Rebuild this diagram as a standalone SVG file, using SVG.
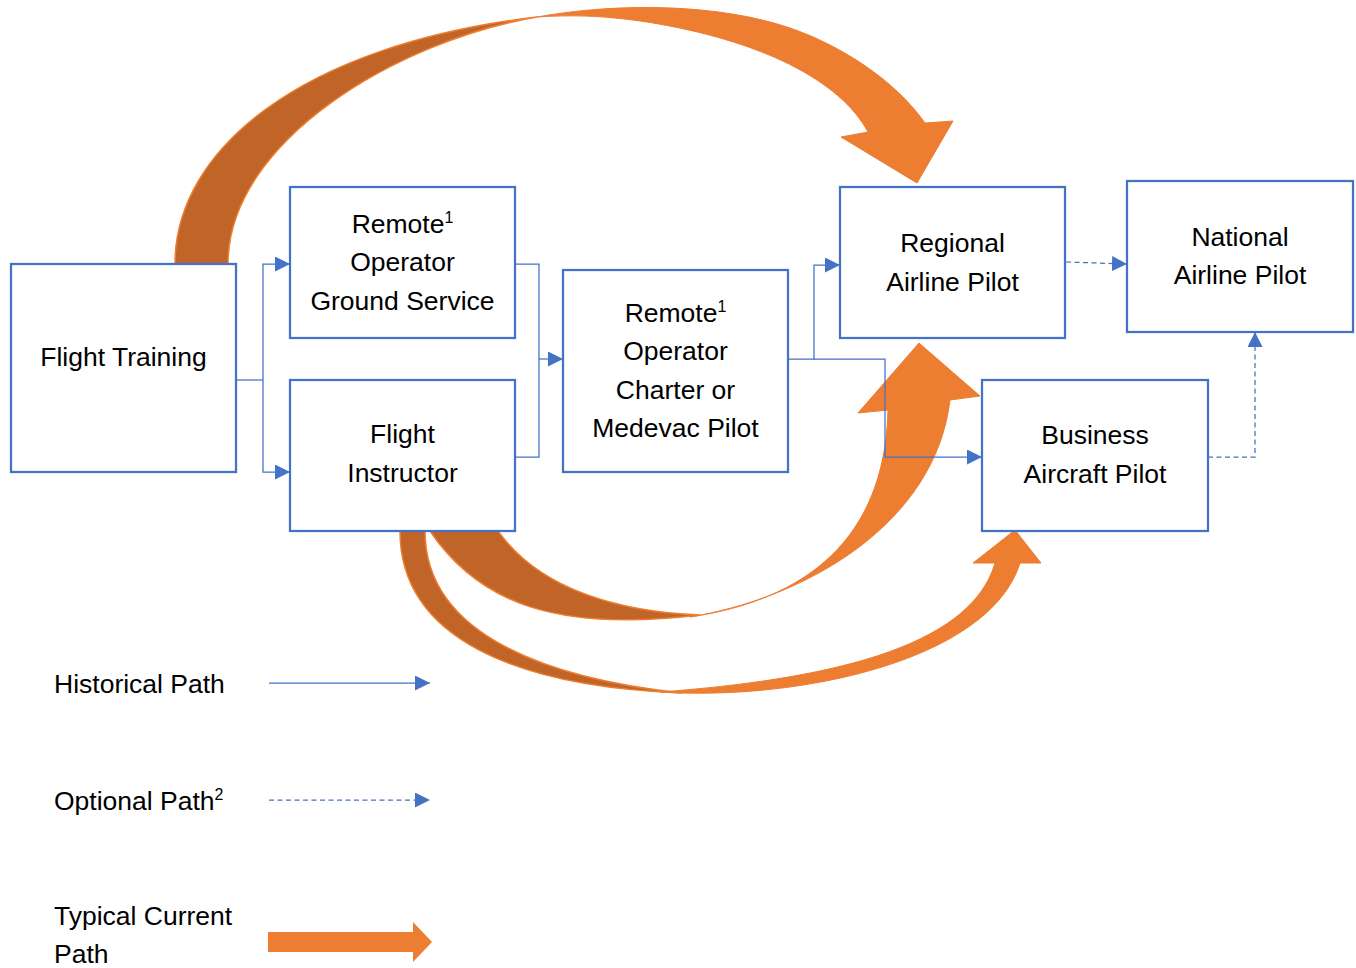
<svg xmlns="http://www.w3.org/2000/svg" width="1356" height="968" viewBox="0 0 1356 968">
<style>
.box{fill:#fff;stroke:#4472C4;stroke-width:2.25}
.t{font-family:"Liberation Sans",Arial,sans-serif;font-size:26.5px;fill:#000}
.c{text-anchor:middle}
.sup{font-size:16px}
.conn{fill:none;stroke:#4472C4;stroke-width:1.25}
.dash{stroke-dasharray:5 3.5}
.org{fill:#ED7D31;stroke:#ED7D31;stroke-width:1}
.drk{fill:#C06428;stroke:#ED7D31;stroke-width:1.5}
</style>
<defs>
<marker id="ah" viewBox="0 0 10 10" refX="10" refY="5" markerUnits="userSpaceOnUse" markerWidth="15" markerHeight="15" orient="auto">
<path d="M0,0 L10,5 L0,10 Z" fill="#4472C4"/>
</marker>
</defs>
<rect width="1356" height="968" fill="#fff"/>

<g id="current-paths">
<path class="drk" d="M175,264 C175,150 300,45 537,17 C400,40 228,140 228,264 Z"/>
<path class="org" d="M537,17 C620,2 720,4 790,28 C840,45 895,80 925,123 L953,121 L917,183 L841,137 L868,132 C840,80 760,40 647,22 C600,15 570,15 537,17 Z"/>
<path class="drk" d="M430,531 C480,605 560,632 700,615 C620,612 540,590 498,531 Z"/>
<path class="org" d="M690,617 C805,598 935,525 950,400 L980,396 L919,343 L858,413 L888,410 C885,540 805,600 690,617 Z"/>
<path class="drk" d="M400,531 C400,640 520,687 682,693 C560,680 425,640 425,531 Z"/>
<path class="org" d="M660,692 C800,701 990,660 1020,563 L1041,563 L1015,530 L973,563 L995,563 C970,650 820,680 660,692 Z"/>
</g>

<g id="node-flight-training">
<rect class="box" x="11" y="264" width="225" height="208"/>
<text class="t c" x="123.5" y="366">Flight Training</text>
</g>
<g id="node-ground-service">
<rect class="box" x="290" y="187" width="225" height="151"/>
<text class="t c" x="402.5" y="233">Remote<tspan class="sup" dy="-10">1</tspan></text>
<text class="t c" x="402.5" y="271">Operator</text>
<text class="t c" x="402.5" y="310">Ground Service</text>
</g>
<g id="node-flight-instructor">
<rect class="box" x="290" y="380" width="225" height="151"/>
<text class="t c" x="402.5" y="443">Flight</text>
<text class="t c" x="402.5" y="482">Instructor</text>
</g>
<g id="node-charter">
<rect class="box" x="563" y="270" width="225" height="202"/>
<text class="t c" x="675.5" y="322">Remote<tspan class="sup" dy="-10">1</tspan></text>
<text class="t c" x="675.5" y="360">Operator</text>
<text class="t c" x="675.5" y="399">Charter or</text>
<text class="t c" x="675.5" y="437">Medevac Pilot</text>
</g>
<g id="node-regional">
<rect class="box" x="840" y="187" width="225" height="151"/>
<text class="t c" x="952.5" y="252">Regional</text>
<text class="t c" x="952.5" y="291">Airline Pilot</text>
</g>
<g id="node-national">
<rect class="box" x="1127" y="181" width="226" height="151"/>
<text class="t c" x="1240" y="246">National</text>
<text class="t c" x="1240" y="284">Airline Pilot</text>
</g>
<g id="node-business">
<rect class="box" x="982" y="380" width="226" height="151"/>
<text class="t c" x="1095" y="444">Business</text>
<text class="t c" x="1095" y="483">Aircraft Pilot</text>
</g>

<g id="connectors">
<polyline class="conn" points="236,380 263,380"/>
<polyline class="conn" points="263,380 263,264 290,264" marker-end="url(#ah)"/>
<polyline class="conn" points="263,380 263,472 290,472" marker-end="url(#ah)"/>
<polyline class="conn" points="515,264 539,264 539,457 515,457"/>
<polyline class="conn" points="539,359 563,359" marker-end="url(#ah)"/>
<polyline class="conn" points="788,359 814,359 814,265 840,265" marker-end="url(#ah)"/>
<polyline class="conn" points="814,359 885,359 885,457 982,457" marker-end="url(#ah)"/>
<polyline class="conn dash" points="1066,262 1127,264" marker-end="url(#ah)"/>
<polyline class="conn dash" points="1208,457 1255,457 1255,332" marker-end="url(#ah)"/>
</g>

<g id="legend">
<text class="t" x="54" y="693">Historical Path</text>
<line class="conn" x1="269" y1="683" x2="430" y2="683" marker-end="url(#ah)"/>
<text class="t" x="54" y="810">Optional Path<tspan class="sup" dy="-10">2</tspan></text>
<line class="conn dash" x1="269" y1="800" x2="430" y2="800" marker-end="url(#ah)"/>
<text class="t" x="54" y="925">Typical Current</text>
<text class="t" x="54" y="963">Path</text>
<polygon fill="#ED7D31" points="268,932 413,932 413,922 432,942 413,962 413,952 268,952"/>
</g>
</svg>
